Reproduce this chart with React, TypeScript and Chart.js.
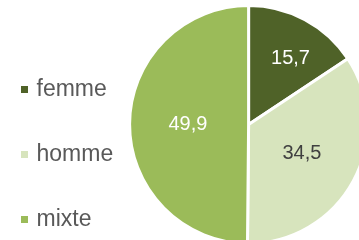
import { useEffect, useRef } from 'react';
import { Chart, registerables } from 'chart.js';

Chart.register(...registerables);

const categories = ['femme', 'homme', 'mixte'];
const shares = [15.7, 34.5, 49.9];
const sliceColors = ['#4F6228', '#D7E4BD', '#9BBB59'];
const labelColors = ['#FFFFFF', '#404040', '#FFFFFF'];

const FONT = '"Liberation Sans", Arial, sans-serif';

const valueLabels = {
  id: 'valueLabels',
  afterDatasetsDraw(chart: any) {
    const ctx = chart.ctx;
    const meta = chart.getDatasetMeta(0);
    const data = chart.data.datasets[0].data as number[];
    const total = data.reduce((a, b) => a + b, 0);
    ctx.save();
    ctx.font = `20px ${FONT}`;
    ctx.textAlign = 'center';
    ctx.textBaseline = 'middle';
    meta.data.forEach((arc: any, i: number) => {
      const { x, y, startAngle, endAngle, outerRadius } = arc.getProps(
        ['x', 'y', 'startAngle', 'endAngle', 'outerRadius'],
        true
      );
      const share = data[i] / total;
      const mid = (startAngle + endAngle) / 2 + (share < 0.2 ? 0.07 : 0);
      const r = outerRadius * (share < 0.2 ? 0.66 : 0.51);
      ctx.fillStyle = labelColors[i];
      ctx.fillText(
        data[i].toFixed(1).replace('.', ','),
        x + Math.cos(mid) * r,
        y + Math.sin(mid) * r
      );
    });
    ctx.restore();
  },
};

export default function App() {
  const ref = useRef<HTMLCanvasElement>(null);
  useEffect(() => {
    const chart = new Chart(ref.current!, {
      type: 'pie',
      data: {
        labels: categories,
        datasets: [
          {
            data: shares,
            backgroundColor: sliceColors,
            borderColor: '#FFFFFF',
            borderWidth: 3,
            radius: 119,
            clip: false,
          } as any,
        ],
      },
      options: {
        responsive: false,
        animation: false,
        layout: { padding: 0 },
        plugins: {
          legend: {
            position: 'left',
            align: 'end',
            labels: {
              usePointStyle: true,
              pointStyle: 'rect',
              boxWidth: 1,
              boxHeight: 7,
              padding: 42,
              color: '#595959',
              font: { family: FONT, size: 23 },
              generateLabels: (c: any) => {
                const items = (Chart as any).overrides.doughnut.plugins.legend.labels.generateLabels(c);
                return items.map((it: any) => ({ ...it, lineWidth: 0, strokeStyle: 'rgba(0,0,0,0)' }));
              },
            },
          },
          tooltip: { enabled: false },
        },
      } as any,
      plugins: [valueLabels],
    });
    return () => chart.destroy();
  }, []);
  return (
    <div
      style={{
        position: 'fixed',
        left: 0,
        top: 0,
        width: 359,
        height: 240,
        overflow: 'hidden',
        background: '#FFFFFF',
      }}
    >
      <canvas
        ref={ref}
        width={392}
        height={297}
        style={{ position: 'absolute', left: -18, top: -24, width: 392, height: 297 }}
      />
    </div>
  );
}
